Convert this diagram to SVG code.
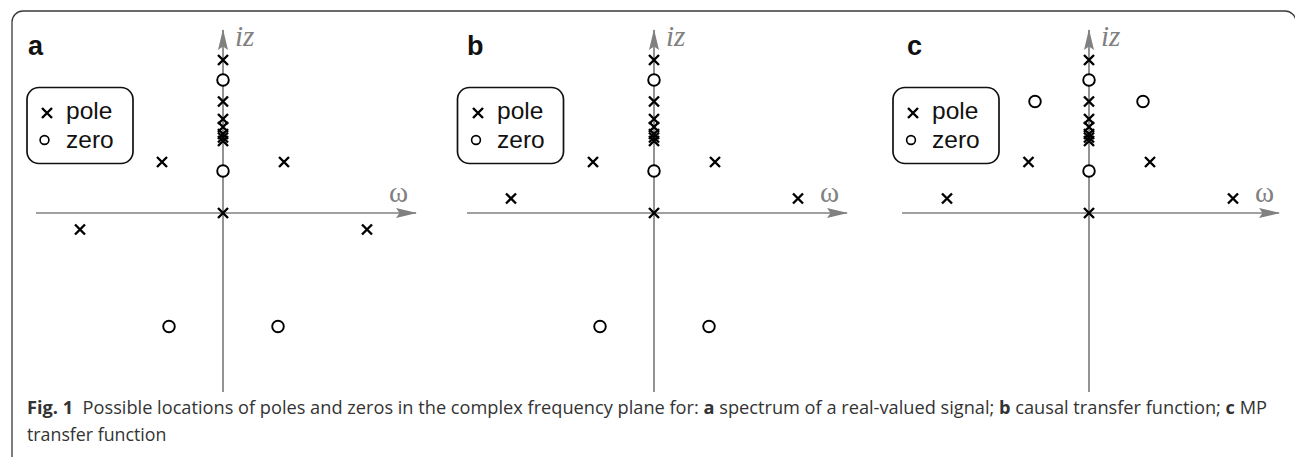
<svg xmlns="http://www.w3.org/2000/svg" xmlns:xlink="http://www.w3.org/1999/xlink" width="1295" height="457" viewBox="0 0 1295 457">
<style>
.frame{fill:none;stroke:#3a3a3a;stroke-width:1.3}
.axis{stroke:#808080;stroke-width:1.7;fill:none}
.lg{fill:none;stroke:#111;stroke-width:1.7}
.lbl{font-family:"Liberation Sans",Arial,sans-serif;font-weight:bold;font-size:27px;fill:#111}
.lt{font-family:"Liberation Sans",Arial,sans-serif;font-size:24.5px;fill:#111}
.iz{font-family:"Liberation Serif","Times New Roman",serif;font-style:italic;font-size:29px;fill:#808080}
.om{font-family:"Liberation Serif","Times New Roman",serif;font-size:29px;fill:#808080}
.cap{font-family:"Open Sans","Noto Sans",sans-serif;font-size:17.8px;fill:#333}
.b{font-weight:bold}
</style>
<defs>
<g id="x"><path d="M-5,-5 L5,5 M-5,5 L5,-5" stroke="#000" stroke-width="2.4" fill="none"/></g>
<g id="o"><circle r="5.8" fill="#fff" stroke="#000" stroke-width="1.9"/></g>
<g id="ol"><circle r="4.4" fill="#fff" stroke="#000" stroke-width="1.6"/></g>
<marker id="ah" viewBox="0 0 22 12" refX="20" refY="6" markerWidth="22" markerHeight="12" markerUnits="userSpaceOnUse" orient="auto">
<path d="M0,1 L21,6 L0,11 L3.5,6 Z" fill="#808080"/>
</marker>
</defs>
<rect class="frame" x="12" y="11" width="1284" height="470" rx="11"/>
<g id="connectors">
<line class="axis" x1="36" y1="213" x2="416" y2="213" marker-end="url(#ah)"/>
<line class="axis" x1="223" y1="392" x2="223" y2="30" marker-end="url(#ah)"/>
<line class="axis" x1="467" y1="213" x2="847" y2="213" marker-end="url(#ah)"/>
<line class="axis" x1="654" y1="392" x2="654" y2="30" marker-end="url(#ah)"/>
<line class="axis" x1="902" y1="213" x2="1279" y2="213" marker-end="url(#ah)"/>
<line class="axis" x1="1089" y1="392" x2="1089" y2="30" marker-end="url(#ah)"/>
</g>
<g id="panel-a">
<text class="lbl" x="28" y="55">a</text>
<text class="iz" x="235" y="46">iz</text>
<text class="om" x="389" y="202">ω</text>
<g id="legend-a">
<rect class="lg" x="27" y="87.5" width="106" height="76" rx="12"/>
<use xlink:href="#x" x="47" y="113"/>
<text class="lt" x="66" y="119">pole</text>
<use xlink:href="#ol" x="44.5" y="140"/>
<text class="lt" x="66" y="147.5">zero</text>
</g>
<g id="marks-a">
<use xlink:href="#x" x="223" y="60"/>
<use xlink:href="#o" x="223" y="80"/>
<use xlink:href="#x" x="223" y="101.5"/>
<use xlink:href="#x" x="223" y="119"/>
<use xlink:href="#x" x="223" y="127"/>
<use xlink:href="#x" x="223" y="134"/>
<use xlink:href="#x" x="223" y="137.5"/>
<use xlink:href="#x" x="223" y="141"/>
<use xlink:href="#o" x="223" y="171"/>
<use xlink:href="#x" x="223" y="213"/>
<use xlink:href="#x" x="162" y="162"/>
<use xlink:href="#x" x="284" y="162"/>
<use xlink:href="#x" x="80" y="229.5"/>
<use xlink:href="#x" x="367" y="229.5"/>
<use xlink:href="#o" x="169" y="326.5"/>
<use xlink:href="#o" x="278" y="326.5"/>
</g>
</g>
<g id="panel-b">
<text class="lbl" x="467" y="55">b</text>
<text class="iz" x="666" y="46">iz</text>
<text class="om" x="820" y="202">ω</text>
<g id="legend-b">
<rect class="lg" x="457.5" y="87.5" width="106" height="76" rx="12"/>
<use xlink:href="#x" x="478" y="113"/>
<text class="lt" x="497" y="119">pole</text>
<use xlink:href="#ol" x="476" y="140"/>
<text class="lt" x="497" y="147.5">zero</text>
</g>
<g id="marks-b">
<use xlink:href="#x" x="654" y="60"/>
<use xlink:href="#o" x="654" y="80"/>
<use xlink:href="#x" x="654" y="101.5"/>
<use xlink:href="#x" x="654" y="119"/>
<use xlink:href="#x" x="654" y="127"/>
<use xlink:href="#x" x="654" y="134"/>
<use xlink:href="#x" x="654" y="137.5"/>
<use xlink:href="#x" x="654" y="141"/>
<use xlink:href="#o" x="654" y="171"/>
<use xlink:href="#x" x="654" y="213"/>
<use xlink:href="#x" x="593" y="162"/>
<use xlink:href="#x" x="715" y="162"/>
<use xlink:href="#x" x="511" y="198.5"/>
<use xlink:href="#x" x="798" y="198.5"/>
<use xlink:href="#o" x="600" y="326.5"/>
<use xlink:href="#o" x="709" y="326.5"/>
</g>
</g>
<g id="panel-c">
<text class="lbl" x="907" y="55">c</text>
<text class="iz" x="1101" y="46">iz</text>
<text class="om" x="1255" y="202">ω</text>
<g id="legend-c">
<rect class="lg" x="893" y="87.5" width="106" height="76" rx="12"/>
<use xlink:href="#x" x="913" y="113"/>
<text class="lt" x="932" y="119">pole</text>
<use xlink:href="#ol" x="911" y="140"/>
<text class="lt" x="932" y="147.5">zero</text>
</g>
<g id="marks-c">
<use xlink:href="#x" x="1089" y="60"/>
<use xlink:href="#o" x="1089" y="80"/>
<use xlink:href="#x" x="1089" y="101.5"/>
<use xlink:href="#x" x="1089" y="119"/>
<use xlink:href="#x" x="1089" y="127"/>
<use xlink:href="#x" x="1089" y="134"/>
<use xlink:href="#x" x="1089" y="137.5"/>
<use xlink:href="#x" x="1089" y="141"/>
<use xlink:href="#o" x="1089" y="171"/>
<use xlink:href="#x" x="1089" y="213"/>
<use xlink:href="#o" x="1035" y="101.5"/>
<use xlink:href="#o" x="1143" y="101.5"/>
<use xlink:href="#x" x="1028.5" y="162"/>
<use xlink:href="#x" x="1150" y="162"/>
<use xlink:href="#x" x="947" y="198.5"/>
<use xlink:href="#x" x="1233" y="198.5"/>
</g>
</g>
<g id="caption">
<text class="cap" x="27" y="414" textLength="1240" lengthAdjust="spacingAndGlyphs" xml:space="preserve"><tspan class="b">Fig. 1</tspan>  Possible locations of poles and zeros in the complex frequency plane for: <tspan class="b">a</tspan> spectrum of a real-valued signal; <tspan class="b">b</tspan> causal transfer function; <tspan class="b">c</tspan> MP</text>
<text class="cap" x="27" y="441">transfer function</text>
</g>
</svg>
